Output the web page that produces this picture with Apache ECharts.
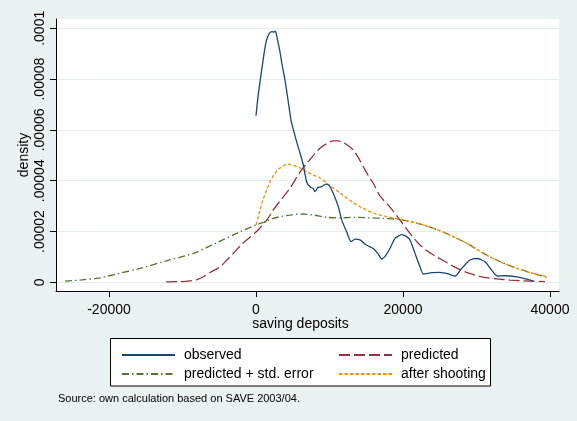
<!DOCTYPE html>
<html>
<head>
<meta charset="utf-8">
<script src="https://cdn.jsdelivr.net/npm/echarts@6/dist/echarts.min.js"></script>
<style>
html,body{margin:0;padding:0;background:#EAF1F3;}
#c{width:577px;height:421px;}
</style>
</head>
<body>
<div id="c"></div>
<script>
// ---- data ----
const xTicks = [-20000, 0, 20000, 40000];
const yTicks = [0, 0.00002, 0.00004, 0.00006, 0.00008, 0.0001];
const yTickLabels = ['0', '.00002', '.00004', '.00006', '.00008', '.0001'];
const seriesNames = ['observed', 'predicted', 'predicted + std. error', 'after shooting'];

const observedX = [0,272,544,816,1088,1361,1633,1905,2177,2449,2585,2721,2993,3265,3537,3946,4354,4762,5170,5578,5986,6435,6898,7347,7796,8027,8395,8707,9075,9524,9973,10517,11197,11660,12340,12925,13469,14150,14830,15279,15959,16639,17102,17687,18231,18912,19823,20503,20952,21633,22313,22762,23905,25034,26163,27075,27986,29116,30109,31156,32068,32830,33878,35469,36830,37728];
const observedY = [6.56e-5,7.30e-5,7.89e-5,8.44e-5,8.99e-5,9.46e-5,9.70e-5,9.83e-5,9.87e-5,9.85e-5,9.89e-5,9.83e-5,9.46e-5,9.07e-5,8.59e-5,7.96e-5,7.18e-5,6.39e-5,5.92e-5,5.48e-5,5.09e-5,4.62e-5,3.95e-5,3.76e-5,3.69e-5,3.57e-5,3.73e-5,3.75e-5,3.79e-5,3.87e-5,3.81e-5,3.50e-5,2.98e-5,2.45e-5,1.99e-5,1.60e-5,1.70e-5,1.67e-5,1.51e-5,1.43e-5,1.33e-5,1.11e-5,9.2e-6,1.07e-5,1.34e-5,1.73e-5,1.88e-5,1.80e-5,1.67e-5,1.14e-5,6.1e-6,3.3e-6,3.8e-6,3.9e-6,3.3e-6,2.5e-6,5.5e-6,8.8e-6,9.4e-6,8.1e-6,4.8e-6,2.5e-6,2.6e-6,2.2e-6,1.3e-6,5e-7];

const predictedX = [-12245,-10340,-8980,-8027,-7170,-6259,-4898,-4082,-3088,-2177,-1265,0,1456,2354,3265,4626,5986,6898,7796,8707,9619,10517,11156,11878,12517,13238,13878,14599,15238,15959,16871,18231,19592,20952,22041,23224,24354,25483,26667,27755,28844,30027,31293,32748,34558,36367,39320];
const predictedY = [2e-7,3e-7,6e-7,1.1e-6,2.2e-6,3.9e-6,6.1e-6,8.4e-6,1.14e-5,1.43e-5,1.67e-5,1.98e-5,2.45e-5,2.85e-5,3.20e-5,3.71e-5,4.34e-5,4.68e-5,4.99e-5,5.28e-5,5.46e-5,5.57e-5,5.57e-5,5.50e-5,5.39e-5,5.21e-5,4.93e-5,4.55e-5,4.22e-5,3.90e-5,3.40e-5,2.96e-5,2.45e-5,1.93e-5,1.55e-5,1.25e-5,1.04e-5,8.6e-6,6.6e-6,5.0e-6,3.7e-6,2.7e-6,1.9e-6,1.4e-6,9e-7,6e-7,3e-7];

const stdErrX = [-25986,-23946,-21224,-18952,-15782,-12150,-8531,-5347,-2177,0,1456,2354,3714,4626,6218,7796,9619,11429,13701,15510,17320,19592,21864,24122,26395,28667,30925,33197,35469,37728,39728];
const stdErrY = [5e-7,9e-7,1.8e-6,3.3e-6,5.5e-6,8.5e-6,1.14e-5,1.56e-5,1.99e-5,2.26e-5,2.41e-5,2.52e-5,2.61e-5,2.65e-5,2.69e-5,2.65e-5,2.56e-5,2.54e-5,2.56e-5,2.54e-5,2.52e-5,2.47e-5,2.33e-5,2.13e-5,1.86e-5,1.54e-5,1.15e-5,8.2e-6,5.6e-6,3.5e-6,1.9e-6];

const shootingX = [0,272,544,993,1456,1905,2354,2816,3265,3810,4395,5034,5986,6898,7796,8707,10068,11429,12340,13238,14599,15959,17782,19592,21864,24122,26395,28667,30925,33197,35469,37728,39769];
const shootingY = [2.26e-5,2.53e-5,2.85e-5,3.28e-5,3.63e-5,3.95e-5,4.19e-5,4.38e-5,4.50e-5,4.60e-5,4.65e-5,4.61e-5,4.50e-5,4.36e-5,4.22e-5,4.11e-5,3.81e-5,3.52e-5,3.32e-5,3.14e-5,2.91e-5,2.73e-5,2.59e-5,2.48e-5,2.33e-5,2.13e-5,1.86e-5,1.54e-5,1.14e-5,8.1e-6,5.5e-6,3.5e-6,2.1e-6];

const pairs = (xs, ys) => xs.map((x, i) => [x, ys[i]]);
const FONT = '"Liberation Sans", Arial, sans-serif';
const legendCommon = {
  orient: 'vertical', top: 343, itemWidth: 53, itemHeight: 14, itemGap: 5, z: 5,
  itemStyle: {color: 'rgba(0,0,0,0)', borderColor: 'rgba(0,0,0,0)', borderWidth: 0, opacity: 0},
  textStyle: {fontFamily: FONT, fontSize: 14, color: '#000', padding: [0, 0, 0, 4]}
};

const chart = echarts.init(document.getElementById('c'), null, {renderer: 'canvas'});
chart.setOption({
  backgroundColor: '#EAF1F3',
  animation: false,
  grid: {left: 56, right: 18, top: 19, bottom: 130, show: true, backgroundColor: '#FFFFFF', borderWidth: 0},
  xAxis: {
    type: 'value', min: -27211, max: 41224,
    name: 'saving deposits', nameLocation: 'middle', nameGap: 26, nameMoveOverlap: false,
    nameTextStyle: {fontFamily: FONT, fontSize: 14, color: '#000', padding: [0, 14, 0, 0]},
    axisLine: {show: true, onZero: false, lineStyle: {color: '#000', width: 1}},
    axisTick: {show: true, length: 6, customValues: xTicks, lineStyle: {color: '#000'}},
    axisLabel: {customValues: xTicks, margin: 12, fontFamily: FONT, fontSize: 14, color: '#000',
      formatter: v => String(Math.round(v))},
    splitLine: {show: false}
  },
  yAxis: {
    type: 'value', min: -0.0000034, max: 0.00010366,
    name: 'density', nameLocation: 'middle', nameGap: 25, nameMoveOverlap: false,
    nameTextStyle: {fontFamily: FONT, fontSize: 14, color: '#000'},
    axisLine: {show: true, onZero: false, lineStyle: {color: '#000', width: 1}},
    axisTick: {show: true, length: 6, customValues: yTicks, lineStyle: {color: '#000'}},
    axisLabel: {
      customValues: yTicks, rotate: 90, margin: 9, fontFamily: FONT, fontSize: 14, color: '#000',
      formatter: v => { let best = 0; yTicks.forEach((t, i) => { if (Math.abs(t - v) < Math.abs(yTicks[best] - v)) best = i; }); return yTickLabels[best]; }
    },
    splitLine: {show: true, lineStyle: {color: '#E4ECEF', width: 1}}
  },
  graphic: [
    {type: 'rect', z: 1, shape: {x: 110.5, y: 338.5, width: 380, height: 47.5}, style: {fill: '#FFFFFF', stroke: '#000', lineWidth: 1}},
    {type: 'text', z: 2, left: 58, top: 393, style: {text: 'Source: own calculation based on SAVE 2003/04.', font: '11px ' + FONT, fill: '#000'}}
  ],
  legend: [
    Object.assign({data: [seriesNames[0], seriesNames[2]], left: 116}, legendCommon),
    Object.assign({data: [seriesNames[1], seriesNames[3]], left: 333}, legendCommon)
  ],
  series: [
    {name: seriesNames[0], type: 'line', data: pairs(observedX, observedY), symbol: 'none', smooth: 0.2,
     lineStyle: {color: '#1A476F', width: 1.3, type: 'solid'}, itemStyle: {color: '#1A476F'}, z: 5},
    {name: seriesNames[1], type: 'line', data: pairs(predictedX, predictedY), symbol: 'none', smooth: 0.3,
     lineStyle: {color: '#90353B', width: 1.3, type: [11, 4]}, itemStyle: {color: '#90353B'}, z: 3},
    {name: seriesNames[2], type: 'line', data: pairs(stdErrX, stdErrY), symbol: 'none', smooth: 0.3,
     lineStyle: {color: '#55752F', width: 1.3, type: [7, 3, 1.5, 3]}, itemStyle: {color: '#55752F'}, z: 3},
    {name: seriesNames[3], type: 'line', data: pairs(shootingX, shootingY), symbol: 'none', smooth: 0.3,
     lineStyle: {color: '#EE900A', width: 1.3, type: [3.5, 2]}, itemStyle: {color: '#EE900A'}, z: 4}
  ]
});
</script>
</body>
</html>
